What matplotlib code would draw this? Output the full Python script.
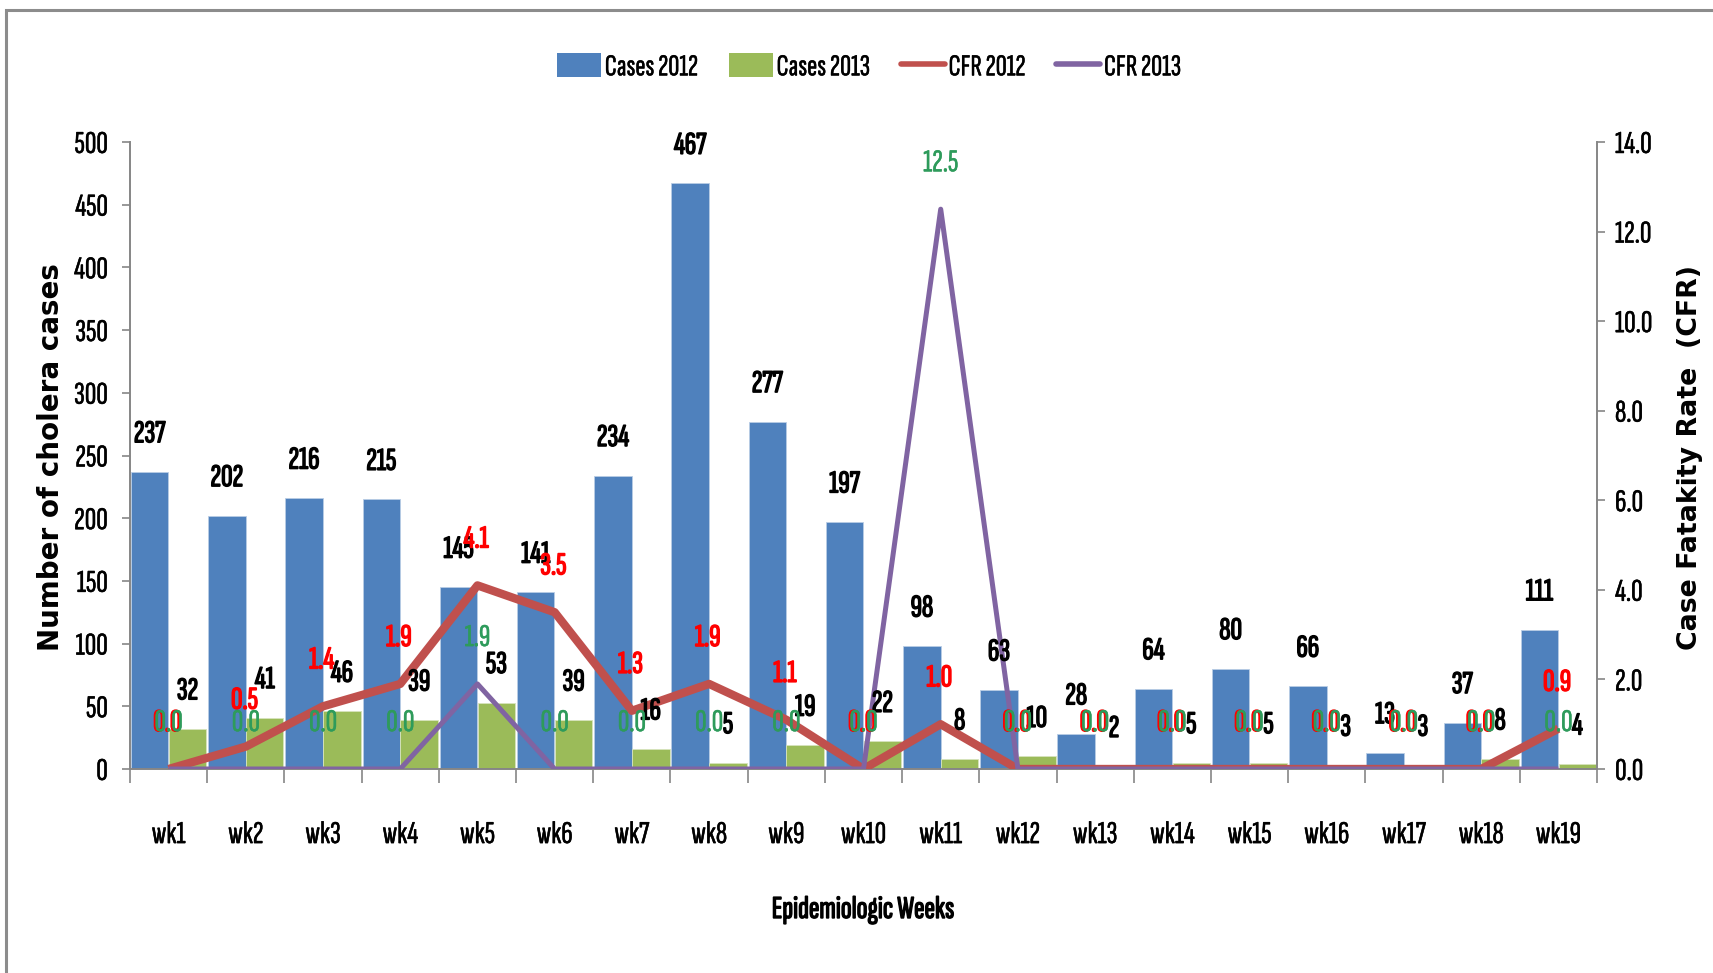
import matplotlib
matplotlib.use("Agg")
import matplotlib.pyplot as plt
import matplotlib.patheffects as pe
from matplotlib.patches import Patch, Rectangle
from matplotlib.lines import Line2D
import numpy as np

weeks = [f"wk{i}" for i in range(1, 20)]
cases_2012 = [237, 202, 216, 215, 145, 141, 234, 467, 277, 197, 98, 63, 28, 64, 80, 66, 13, 37, 111]
cases_2013 = [32, 41, 46, 39, 53, 39, 16, 5, 19, 22, 8, 10, 2, 5, 5, 3, 3, 8, 4]
cfr_2012 = [0.0, 0.5, 1.4, 1.9, 4.1, 3.5, 1.3, 1.9, 1.1, 0.0, 1.0, 0.0, 0.0, 0.0, 0.0, 0.0, 0.0, 0.0, 0.9]
cfr_2013 = [0.0, 0.0, 0.0, 0.0, 1.9, 0.0, 0.0, 0.0, 0.0, 0.0, 12.5, 0.0, 0.0, 0.0, 0.0, 0.0, 0.0, 0.0, 0.0]

NARROW = ['Sofia Sans Extra Condensed', 'Fira Sans Extra Condensed', 'DejaVu Sans']
plt.rcParams['font.family'] = NARROW
FS = 23


def boldfx(color):
    return [pe.withStroke(linewidth=1.0, foreground=color)]


def normfx(color):
    return [pe.withStroke(linewidth=0.35, foreground=color)]


BLUE = '#4F81BD'
GREEN = '#9BBB59'
RED = '#C0504D'
PURPLE = '#8064A2'
AXGRAY = '#868686'

W, H = 1713, 973
fig = plt.figure(figsize=(W / 100, H / 100), dpi=100)
ax = fig.add_axes([130 / W, 1 - 769 / H, (1597 - 130) / W, (769 - 142) / H])
ax2 = ax.twinx()

# outer frame (top + left visible)
fig.patches.append(Rectangle((6 / W, -0.05), 1.2, 1 - 10 / H + 0.05, transform=fig.transFigure,
                             fill=False, edgecolor='#8C8C8C', linewidth=2.2, zorder=0))

x = np.arange(len(weeks))
bw = 0.485
ax.bar(x - 0.245, cases_2012, width=bw, color=BLUE, edgecolor='#B9CDE5', linewidth=0.6, zorder=2)
ax.bar(x + 0.245, cases_2013, width=bw, color=GREEN, edgecolor='#D7E4BD', linewidth=0.6, zorder=2)

ax2.plot(x, cfr_2012, color=RED, linewidth=6.0, solid_capstyle='butt', zorder=3)
ax2.plot(x, cfr_2013, color=PURPLE, linewidth=3.6, solid_capstyle='butt', zorder=4)

ax.set_xlim(-0.5, len(weeks) - 0.5)
ax.set_ylim(0, 500)
ax2.set_ylim(0, 14)
ax.set_yticks(np.arange(0, 501, 50))
ax2.set_yticks(np.arange(0, 14.1, 2))
ax2.set_yticklabels([f"{v:.1f}" for v in np.arange(0, 14.1, 2)])

ax.set_xticks(x)
ax.set_xticklabels(weeks)
ax.set_xticks(np.arange(-0.5, len(weeks), 1), minor=True)
ax.tick_params(axis='x', which='major', length=0, pad=37.5, labelsize=FS)
ax.tick_params(axis='x', which='minor', length=10, width=1.2, color=AXGRAY)
ax.tick_params(axis='y', length=6, width=1.2, color=AXGRAY, labelsize=FS, pad=10)
ax2.tick_params(axis='y', length=6, width=1.2, color=AXGRAY, labelsize=FS, pad=7)
for lbl in ax.get_xticklabels() + ax.get_yticklabels() + ax2.get_yticklabels():
    lbl.set_path_effects(normfx('black'))

for a in (ax, ax2):
    a.spines['top'].set_visible(False)
ax.spines['right'].set_visible(False)
ax2.spines['left'].set_visible(False)
ax2.spines['bottom'].set_visible(False)
for sp in (ax.spines['left'], ax.spines['bottom'], ax2.spines['right']):
    sp.set_color(AXGRAY)
    sp.set_linewidth(1.4)

fig.text(863 / W, 1 - 910 / H, "Epidemiologic Weeks", fontsize=FS, fontweight='bold',
         ha='center', va='center', path_effects=boldfx('black'))
fig.text(51 / W, 1 - 457 / H, "Number of cholera cases", fontsize=20, fontweight='bold',
         family='DejaVu Sans', rotation=90, ha='center', va='center')
fig.text(1690 / W, 1 - 457 / H, "Case Fatakity Rate  (CFR)", fontsize=19.3, fontweight='bold',
         family='DejaVu Sans', rotation=90, ha='center', va='center')

# data labels
for xi, v in zip(x, cases_2012):
    ax2.annotate(str(v), (xi - 0.245, v), xycoords=ax.transData, xytext=(0, 27),
                 textcoords='offset points', ha='center', va='center', fontsize=FS,
                 fontweight='bold', color='black', zorder=6, annotation_clip=False,
                 path_effects=boldfx('black'))
for xi, v in zip(x, cases_2013):
    ax2.annotate(str(v), (xi + 0.245, v), xycoords=ax.transData, xytext=(0, 27),
                 textcoords='offset points', ha='center', va='center', fontsize=FS,
                 fontweight='bold', color='black', zorder=6, annotation_clip=False,
                 path_effects=boldfx('black'))
for xi, v in zip(x, cfr_2012):
    ax2.annotate(f"{v:.1f}", (xi, v), xytext=(-1, 33), textcoords='offset points',
                 ha='center', va='center', fontsize=FS, fontweight='bold', color='#FF0000',
                 zorder=7, annotation_clip=False, path_effects=boldfx('#FF0000'))
for xi, v in zip(x, cfr_2013):
    ax2.annotate(f"{v:.1f}", (xi, v), xytext=(0, 33), textcoords='offset points',
                 ha='center', va='center', fontsize=FS, color='#2E9B5B',
                 zorder=8, annotation_clip=False, path_effects=normfx('#2E9B5B'))

handles = [Patch(facecolor=BLUE), Patch(facecolor=GREEN),
           Line2D([], [], color=RED, linewidth=4.0, solid_capstyle='round'),
           Line2D([], [], color=PURPLE, linewidth=4.0, solid_capstyle='round')]
leg = fig.legend(handles, ["Cases 2012", "Cases 2013", "CFR 2012", "CFR 2013"],
                 loc='center', bbox_to_anchor=(869 / W, 1 - 67 / H), ncol=4, frameon=False,
                 fontsize=22, handlelength=1.45, handleheight=0.85, handletextpad=0.12,
                 columnspacing=1.0)
for t in leg.get_texts():
    t.set_path_effects(normfx('black'))

fig.savefig("out.png", dpi=100, facecolor='white')
